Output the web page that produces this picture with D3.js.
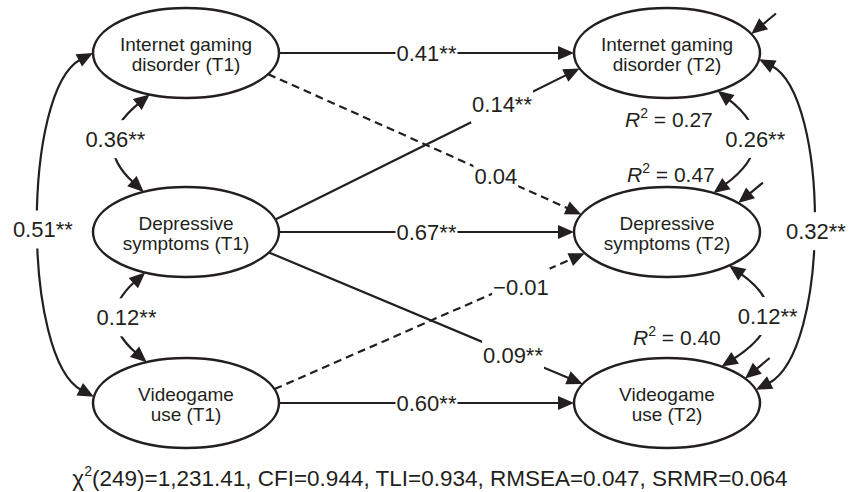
<!DOCTYPE html>
<html><head><meta charset="utf-8">
<script src="https://cdn.jsdelivr.net/npm/d3@7"></script>
<style>body{margin:0;background:#fff}svg{display:block}</style>
</head><body><svg id="c" width="850" height="492"></svg>
<script>
// ---------- data ----------
const timepoints = ["T1", "T2"];
const constructs = ["Internet gaming disorder", "Depressive symptoms", "Videogame use"];
const nodeLine1 = ["Internet gaming", "Depressive", "Videogame"];
const nodeLine2 = ["disorder", "symptoms", "use"];
const regFrom = [0, 0, 1, 1, 1, 2, 2];
const regTo   = [0, 1, 0, 1, 2, 1, 2];
const regCoef = ["0.41**", "0.04", "0.14**", "0.67**", "0.09**", "\u22120.01", "0.60**"];
const regSig  = [true, false, true, true, true, false, true];
const covPairs = [[0, 1], [1, 2], [0, 2]];
const covT1 = ["0.36**", "0.12**", "0.51**"];
const covT2 = ["0.26**", "0.12**", "0.32**"];
const r2T2 = ["0.27", "0.47", "0.40"];
const fitNames = ["CFI", "TLI", "RMSEA", "SRMR"];
const fitValues = ["0.944", "0.934", "0.047", "0.064"];
const chiDf = "249", chiValue = "1,231.41";

// ---------- drawing ----------
const ink = "#231f20";
const font = "'Liberation Sans', Arial, Helvetica, sans-serif";
const svg = d3.select("#c");
const x = d3.scalePoint().domain(timepoints).range([186, 667]);
const y = d3.scaleOrdinal().domain(constructs).range([53, 232, 403]);
const RX = 93, RY = 45, AL = 16, AW = 7;

function ept(t, c, deg) {
  const a = deg * Math.PI / 180;
  return [x(timepoints[t]) + RX * Math.cos(a), y(constructs[c]) + RY * Math.sin(a)];
}
function unit(a, b) { const dx = b[0] - a[0], dy = b[1] - a[1], l = Math.hypot(dx, dy); return [dx / l, dy / l]; }

const gLines = svg.append("g");
const gNodes = svg.append("g");
const gArrows = svg.append("g");
const gLabels = svg.append("g");

function arrowHead(tip, dir) {
  const b = [tip[0] - dir[0] * AL, tip[1] - dir[1] * AL];
  const n = [-dir[1], dir[0]];
  const p = d3.path();
  p.moveTo(tip[0], tip[1]);
  p.lineTo(b[0] + n[0] * AW, b[1] + n[1] * AW);
  p.lineTo(b[0] - n[0] * AW, b[1] - n[1] * AW);
  p.closePath();
  gArrows.append("path").attr("d", p.toString()).attr("fill", ink);
}

function label(txt, cx, cy, gap) {
  const g = gLabels.append("g");
  const rect = g.append("rect").attr("fill", "#fff");
  const t = g.append("text").attr("x", cx).attr("y", cy + 8)
    .attr("text-anchor", "middle").attr("font-family", font).attr("font-size", 22)
    .attr("fill", ink).text(txt);
  if (gap) {
    const w = t.node().getComputedTextLength();
    rect.attr("x", cx - w / 2 - 1).attr("y", cy - 19).attr("width", w + 2).attr("height", 38);
  }
}

// regression paths
const regGeom = [
  {a0: 0, a1: 180, t: 0.5, dy: 0},
  {a0: 28, a1: 203, t: 0.727, dy: 0},
  {a0: -16, a1: 160, t: 0.745, dy: -3},
  {a0: 0, a1: 180, t: 0.5, dy: 0},
  {a0: 27, a1: 205, t: 0.778, dy: 0},
  {a0: -18, a1: 152, t: 0.794, dy: 6},
  {a0: 0, a1: 180, t: 0.5, dy: 0}
];
regCoef.forEach((coef, i) => {
  const gm = regGeom[i];
  const s = ept(0, regFrom[i], gm.a0), e = ept(1, regTo[i], gm.a1);
  const d = unit(s, e);
  const eb = [e[0] - d[0] * (AL - 2), e[1] - d[1] * (AL - 2)];
  const p = d3.path(); p.moveTo(s[0], s[1]); p.lineTo(eb[0], eb[1]);
  gLines.append("path").attr("d", p.toString()).attr("fill", "none").attr("stroke", ink)
    .attr("stroke-width", 2.2).attr("stroke-dasharray", regSig[i] ? null : "8,5");
  arrowHead(e, d);
  label(coef, s[0] + (e[0] - s[0]) * gm.t, s[1] + (e[1] - s[1]) * gm.t + gm.dy, true);
});

// covariances
const covGeom = [
  [ {a0: 113, a1: 243, cx: 90, ldx: -3, ldy: -4},
    {a0: 116, a1: 245, cx: 95, ldx: 6, ldy: 0},
    {a0: 180, a1: 188, cx: 22, cubic: true, ldx: 3, ldy: 5} ],
  [ {a0: 57, a1: -60, cx: 783, ldx: 6, ldy: -3},
    {a0: 48, a1: -54, cx: 800, ldx: 5, ldy: 0},
    {a0: 8, a1: -17, cx: 830, cubic: true, ldx: 4, ldy: 7} ]
];
[covT1, covT2].forEach((vals, t) => {
  vals.forEach((coef, k) => {
    const gm = covGeom[t][k];
    const P0 = ept(t, covPairs[k][0], gm.a0), P3 = ept(t, covPairs[k][1], gm.a1);
    let C1, C2, mid;
    if (gm.cubic) {
      C1 = [gm.cx, P0[1] + 37]; C2 = [gm.cx, P3[1] - 38];
      mid = [0.125 * P0[0] + 0.375 * C1[0] + 0.375 * C2[0] + 0.125 * P3[0],
             0.125 * P0[1] + 0.375 * C1[1] + 0.375 * C2[1] + 0.125 * P3[1]];
    } else {
      C1 = [gm.cx, (P0[1] + P3[1]) / 2]; C2 = C1;
      mid = [0.25 * P0[0] + 0.5 * C1[0] + 0.25 * P3[0], 0.25 * P0[1] + 0.5 * C1[1] + 0.25 * P3[1]];
    }
    const d0 = unit(C1, P0), d3v = unit(C2, P3);
    const b0 = [P0[0] - d0[0] * (AL - 2), P0[1] - d0[1] * (AL - 2)];
    const b3 = [P3[0] - d3v[0] * (AL - 2), P3[1] - d3v[1] * (AL - 2)];
    const p = d3.path(); p.moveTo(b0[0], b0[1]);
    if (gm.cubic) p.bezierCurveTo(C1[0], C1[1], C2[0], C2[1], b3[0], b3[1]);
    else p.quadraticCurveTo(C1[0], C1[1], b3[0], b3[1]);
    gLines.append("path").attr("d", p.toString()).attr("fill", "none")
      .attr("stroke", ink).attr("stroke-width", 2.2);
    arrowHead(P0, d0); arrowHead(P3, d3v);
    label(coef, mid[0] + gm.ldx, mid[1] + gm.ldy, true);
  });
});

// residual arrows on T2 nodes
const resAngle = [-25, -40, -33];
constructs.forEach((c, i) => {
  const tip = ept(1, i, resAngle[i]);
  const dir = [-0.77, 0.64];
  const tail = [tip[0] - dir[0] * 32, tip[1] - dir[1] * 32];
  const base = [tip[0] - dir[0] * (AL - 2), tip[1] - dir[1] * (AL - 2)];
  gLines.append("line").attr("x1", tail[0]).attr("y1", tail[1]).attr("x2", base[0]).attr("y2", base[1])
    .attr("stroke", ink).attr("stroke-width", 2.2);
  arrowHead(tip, dir);
});

// nodes
timepoints.forEach((tp, t) => {
  constructs.forEach((c, i) => {
    const cx = x(tp), cy = y(c);
    gNodes.append("ellipse").attr("cx", cx).attr("cy", cy).attr("rx", RX).attr("ry", RY)
      .attr("fill", "#fff").attr("stroke", ink).attr("stroke-width", 2.5);
    const txt = gNodes.append("text").attr("text-anchor", "middle").attr("font-family", font)
      .attr("font-size", 19).attr("fill", ink);
    txt.append("tspan").attr("x", cx).attr("y", cy - 2).text(nodeLine1[i]);
    txt.append("tspan").attr("x", cx).attr("y", cy + 18).text(nodeLine2[i] + " (" + tp + ")");
  });
});

// R² labels
const r2Off = [[-42, 74], [-40, -50], [-34, -58]];
r2T2.forEach((v, i) => {
  const cx = x(timepoints[1]) + r2Off[i][0], cy = y(constructs[i]) + r2Off[i][1];
  const t = gLabels.append("text").attr("x", cx).attr("y", cy).attr("font-family", font)
    .attr("font-size", 21).attr("fill", ink);
  t.append("tspan").attr("font-style", "italic").text("R");
  t.append("tspan").attr("font-size", 14).attr("dy", -9).text("2");
  t.append("tspan").attr("dy", 9).text(" = " + v);
});

// fit statistics
const fit = svg.append("text").attr("x", 430).attr("y", 486).attr("text-anchor", "middle")
  .attr("font-family", font).attr("font-size", 22.5).attr("fill", ink);
fit.append("tspan").text("\u03c7");
fit.append("tspan").attr("font-size", 14).attr("dy", -10).text("2");
fit.append("tspan").attr("dy", 10).text("(" + chiDf + ")=" + chiValue + ", " +
  fitNames.map((n, i) => n + "=" + fitValues[i]).join(", "));
</script>
</body></html>
